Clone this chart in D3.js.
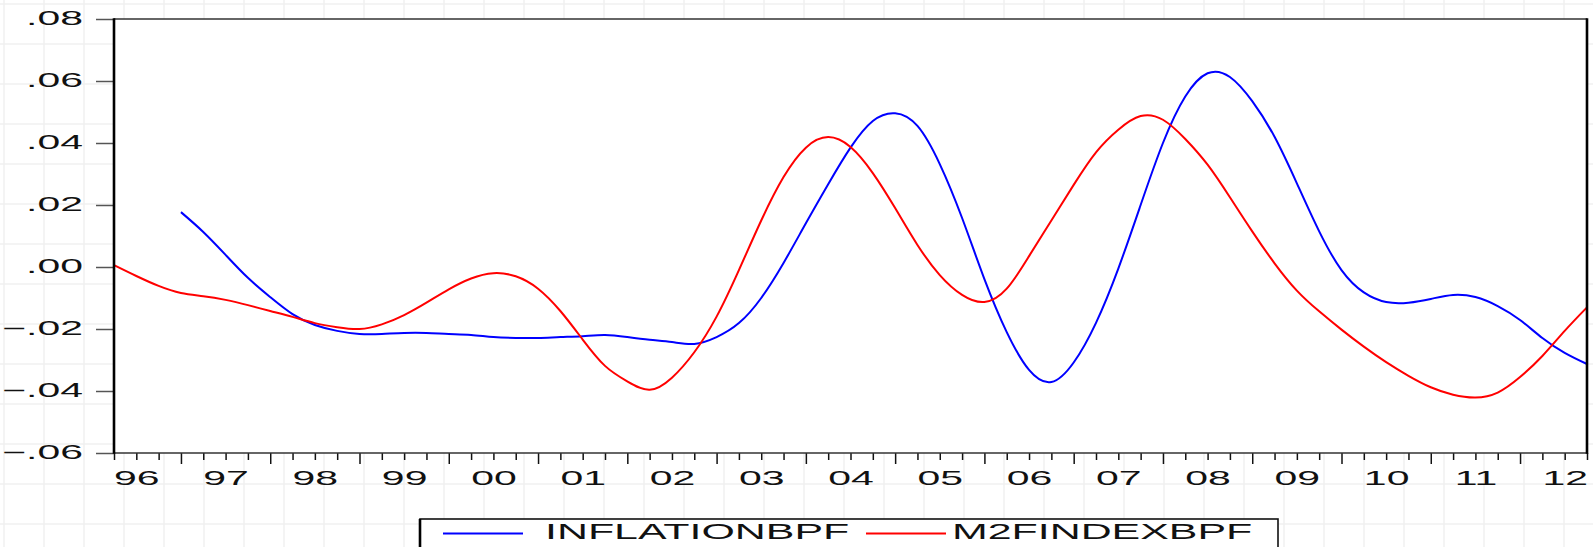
<!DOCTYPE html>
<html>
<head>
<meta charset="utf-8">
<script src="https://cdn.jsdelivr.net/npm/d3@7"></script>
<style>
	body { margin: 0; background: #fff; }
	svg { display: block; font-family: "Liberation Sans", Arial, sans-serif; }
</style>
</head>
<body>
<div id="graphic"></div>
<script>
// quarterly data, 1996Q2 to 2012Q4
const startYear = 1996, startQuarter = 2, nObs = 67;
const yearLabels = ['96','97','98','99','00','01','02','03','04','05','06','07','08','09','10','11','12'];
const yTicks = [0.08, 0.06, 0.04, 0.02, 0.00, -0.02, -0.04, -0.06];
const seriesNames = ['INFLATIONBPF', 'M2FINDEXBPF'];
const seriesColours = ['#0000ff', '#ff0000'];

const inflation = [null, null, null,
	.0177, .0113, .0039, -.0035, -.0097, -.0152, -.0187,
	-.0206, -.0216, -.0216, -.0213, -.0213, -.0216, -.0219, -.0226, -.0229, -.0229,
	-.0226, -.0223, -.0219, -.0226, -.0235, -.0242, -.0248, -.0226, -.0181, -.0100,
	.0013, .0141, .0267, .0385, .0471, .0496, .0455, .0332, .0158, -.0039,
	-.0210, -.0332, -.0371, -.0308, -.0180, -.0005, .0200, .0400, .0550, .0625,
	.0613, .0535, .0420, .0270, .0115, -.0010, -.0082, -.0113, -.0115, -.0103,
	-.0090, -.0097, -.0126, -.0171, -.0229, -.0277, -.0313];

const m2findex = [
	.0006, -.0029, -.0061, -.0084, -.0094, -.0106, -.0123, -.0142, -.0161, -.0181,
	-.0194, -.0200, -.0185, -.0155, -.0115, -.0072, -.0037, -.0020, -.0030, -.0070,
	-.0142, -.0234, -.0319, -.0369, -.0396, -.0357, -.0275, -.0160, -.0010, .0150,
	.0290, .0385, .0419, .0387, .0303, .0190, .0071, -.0026, -.0090, -.0113,
	-.0070, .0035, .0150, .0265, .0370, .0443, .0487, .0475, .0413, .0330,
	.0225, .0115, .0012, -.0076, -.0143, -.0202, -.0257, -.0307, -.0351, -.0388,
	-.0412, -.0421, -.0405, -.0355, -.0287, -.0206, -.0130];

const width = 1593, height = 547;
const margin = { top: 19, right: 6, bottom: 94, left: 114 };
const sx = 1.95; // the original graphic is stretched horizontally

// index of each observation -> quarter number
const quarterOf = d3.range(nObs).map(i => ((startQuarter - 1 + i) % 4) + 1);

let svg = d3.select('#graphic').append('svg')
	.attr('width', width)
	.attr('height', height);

// faint sheet grid behind the graph
let grid = svg.append('g').attr('stroke', '#f1f1f1').attr('stroke-width', 1.5);
grid.selectAll('line.v').data(d3.range(4, width, 40)).join('line')
	.attr('x1', d => d).attr('x2', d => d).attr('y1', 0).attr('y2', height);
grid.selectAll('line.h').data(d3.range(4, height, 40)).join('line')
	.attr('y1', d => d).attr('y2', d => d).attr('x1', 0).attr('x2', width);

let chart_width = width - margin.left - margin.right;
let chart_height = height - margin.top - margin.bottom;

let x = d3.scaleLinear().domain([0, nObs - 1]).range([margin.left, margin.left + chart_width]);
let y = d3.scaleLinear().domain([-0.06, 0.08]).range([margin.top + chart_height, margin.top]);

// white plot area
svg.append('rect')
	.attr('x', margin.left).attr('y', margin.top)
	.attr('width', chart_width).attr('height', chart_height)
	.attr('fill', '#fff');

// y axis
let yAxis = d3.axisLeft(y)
	.tickValues(yTicks)
	.tickSize(18)
	.tickFormat(d => d3.format('.2f')(d).replace('0.', '.'));

let yG = svg.append('g')
	.attr('transform', `translate(${margin.left},0)`)
	.call(yAxis);
yG.select('.domain').remove();
yG.selectAll('line').attr('stroke', '#555').attr('stroke-width', 1.5);
yG.selectAll('text')
	.attr('x', -31 / 2.1)
	.attr('dy', '0.3em')
	.attr('transform', 'scale(2.1,1)')
	.attr('font-size', 19.5)
	.attr('fill', '#111');

// x axis: one tick per quarter, longer ticks at Q1
let xAxis = d3.axisBottom(x)
	.tickValues(d3.range(nObs))
	.tickSize(7)
	.tickFormat('');

let xG = svg.append('g')
	.attr('transform', `translate(0,${margin.top + chart_height})`)
	.call(xAxis);
xG.select('.domain').remove();
xG.selectAll('line')
	.attr('stroke', '#111')
	.attr('stroke-width', 1.5)
	.attr('y2', d => quarterOf[d] === 1 ? 11 : 7);

// year labels centred on Q3 of each year
let labelIdx = yearLabels.map((d, k) => (k * 4) + (3 - startQuarter));
let xLab = svg.append('g')
	.attr('transform', `translate(0,${margin.top + chart_height})`)
	.call(d3.axisBottom(x).tickValues(labelIdx).tickSize(0).tickFormat((d, k) => yearLabels[k]));
xLab.select('.domain').remove();
xLab.selectAll('text')
	.attr('y', 0)
	.attr('dy', 0)
	.attr('transform', `translate(0,32) scale(${sx},1)`)
	.attr('font-size', 21)
	.attr('fill', '#111');

// series
let line = d3.line()
	.defined(d => d != null)
	.x((d, i) => x(i))
	.y(d => y(d))
	.curve(d3.curveNatural);

[inflation, m2findex].forEach((s, k) => {
	svg.append('path')
		.datum(s)
		.attr('fill', 'none')
		.attr('stroke', seriesColours[k])
		.attr('stroke-width', 2)
		.attr('d', line);
});

// frame
let x0 = margin.left, x1 = margin.left + chart_width;
let y0 = margin.top, y1 = margin.top + chart_height;
svg.append('line').attr('x1', x0).attr('x2', x1).attr('y1', y0).attr('y2', y0)
	.attr('stroke', '#333').attr('stroke-width', 1.6);
svg.append('line').attr('x1', x0).attr('x2', x1).attr('y1', y1).attr('y2', y1)
	.attr('stroke', '#333').attr('stroke-width', 1.6);
svg.append('line').attr('x1', x0).attr('x2', x0).attr('y1', y0 - 0.8).attr('y2', y1 + 0.8)
	.attr('stroke', '#000').attr('stroke-width', 2.6);
svg.append('line').attr('x1', x1).attr('x2', x1).attr('y1', y0 - 0.8).attr('y2', y1 + 0.8)
	.attr('stroke', '#000').attr('stroke-width', 2.6);

// legend
let legend = svg.append('g').attr('transform', 'translate(420,519)');
legend.append('rect')
	.attr('width', 858).attr('height', 40)
	.attr('fill', '#fff')
	.attr('stroke', '#111').attr('stroke-width', 1.6);
legend.append('line').attr('x1', 0).attr('x2', 0).attr('y1', 0).attr('y2', 40)
	.attr('stroke', '#000').attr('stroke-width', 2.6);

let legendPos = [{ line: 23, text: 125 }, { line: 446, text: 532 }];
let legenditem = legend.selectAll('g.item')
	.data(d3.zip(seriesNames, seriesColours))
	.join('g')
	.attr('class', 'item');

legenditem.append('line')
	.attr('x1', (d, i) => legendPos[i].line)
	.attr('x2', (d, i) => legendPos[i].line + 80)
	.attr('y1', 14.5).attr('y2', 14.5)
	.attr('stroke', d => d[1])
	.attr('stroke-width', 2);

legenditem.append('text')
	.attr('transform', (d, i) => `translate(${legendPos[i].text},20) scale(${sx},1)`)
	.attr('font-size', 22)
	.attr('fill', '#111')
	.text(d => d[0]);
</script>
</body>
</html>
